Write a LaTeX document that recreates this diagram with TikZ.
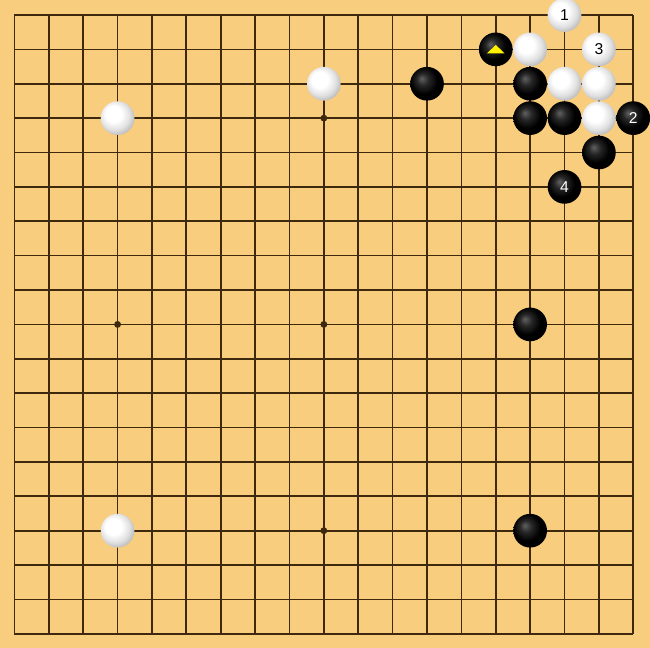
\documentclass[tikz,border=0pt]{standalone}
\usepackage{fontspec}
\setsansfont{Liberation Sans}
\definecolor{board}{RGB}{249,205,126}
\definecolor{gridline}{RGB}{62,40,14}
\pgfdeclareradialshading{wball}{\pgfpoint{-8bp}{8bp}}{color(0bp)=(white); color(12bp)=(white); color(22bp)=(white!88!black); color(30bp)=(white!72!black); color(50bp)=(white!60!black)}
\pgfdeclareradialshading{bball}{\pgfpoint{-8bp}{8bp}}{color(0bp)=(white!38!black); color(9bp)=(white!15!black); color(20bp)=(black); color(50bp)=(black)}
\tikzset{
  bstone/.style={circle,minimum size=0.98cm,inner sep=0pt,shading=bball,text=white,font=\sffamily\fontsize{13}{13}\selectfont},
  wstone/.style={circle,minimum size=0.98cm,inner sep=0pt,shading=wball,text=black,font=\sffamily\fontsize{13}{13}\selectfont},
  starpt/.style={circle,fill=gridline,minimum size=0.2cm,inner sep=0pt}
}
\begin{document}
\begin{tikzpicture}
		\useasboundingbox (-0.42,0.436) rectangle (18.486,-18.412);
		\fill[board] (-0.42,0.436) rectangle (18.486,-18.412);
		\draw[step=1cm,gridline,line width=1.4pt] (0,-18) grid (18,0);
		% star points
		\foreach \x/\y [count=\i] in {9/3,3/9,9/9,9/15}
			\node[starpt] (s\i) at (\x,-\y) {};
		% white stones
		\node[wstone] (w1) at (16,0) {1};
		\node[wstone] (w3) at (17,-1) {3};
		\node[wstone] (wa) at (15,-1) {};
		\node[wstone] (wb) at (16,-2) {};
		\node[wstone] (wc) at (17,-2) {};
		\node[wstone] (wd) at (17,-3) {};
		\node[wstone] (we) at (9,-2) {};
		\node[wstone] (wf) at (3,-3) {};
		\node[wstone] (wg) at (3,-15) {};
		% black stones
		\node[bstone] (bt) at (14,-1) {};
		\node[bstone] (b2) at (18,-3) {2};
		\node[bstone] (b4) at (16,-5) {4};
		\node[bstone] (ba) at (15,-2) {};
		\node[bstone] (bb) at (15,-3) {};
		\node[bstone] (bc) at (16,-3) {};
		\node[bstone] (bd) at (17,-4) {};
		\node[bstone] (be) at (12,-2) {};
		\node[bstone] (bf) at (15,-9) {};
		\node[bstone] (bg) at (15,-15) {};
		% last move mark
		\fill[yellow] ([shift={(-0.26,-0.12)}]bt.center) -- ([shift={(0.26,-0.12)}]bt.center) -- ([shift={(0,0.13)}]bt.center) -- cycle;
\end{tikzpicture}
\end{document}
